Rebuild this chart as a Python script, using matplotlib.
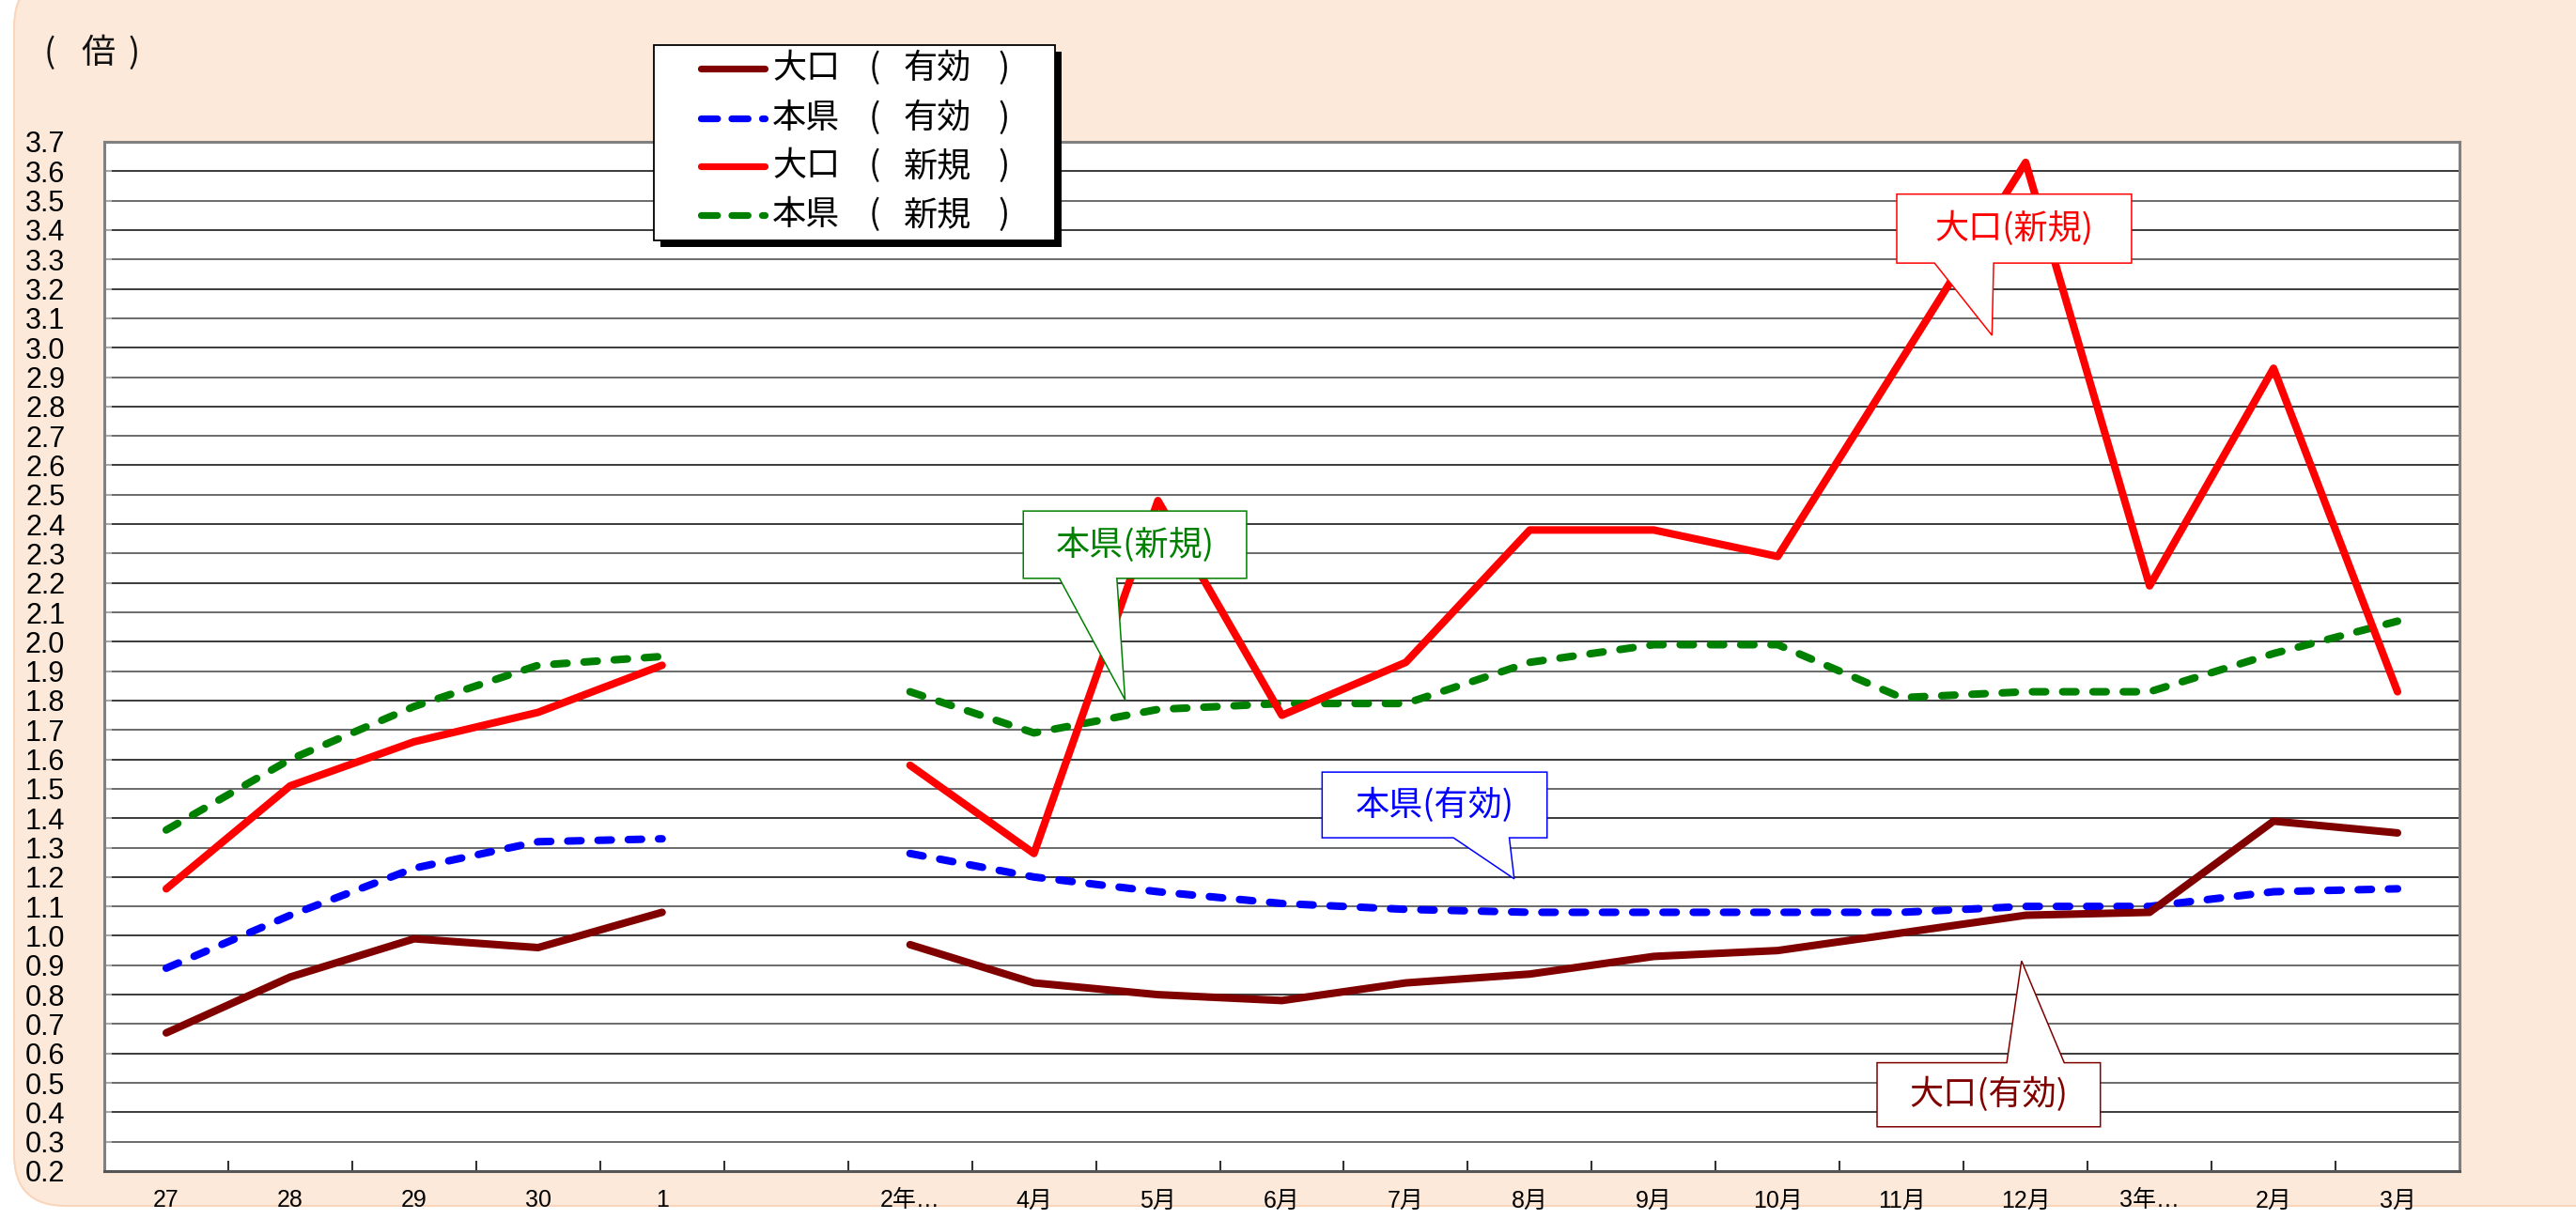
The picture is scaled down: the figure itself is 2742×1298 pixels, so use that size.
import numpy as np
import matplotlib
matplotlib.use("Agg")
import matplotlib.pyplot as plt
from matplotlib.patches import Polygon, FancyBboxPatch, Rectangle
from matplotlib.lines import Line2D

# ---------------- data ----------------
categories = ["27", "28", "29", "30", "1", "", "2年…", "4月", "5月", "6月", "7月",
              "8月", "9月", "10月", "11月", "12月", "3年…", "2月", "3月"]
nan = np.nan
ooguchi_yuko = [0.67, 0.86, 0.99, 0.96, 1.08, nan, 0.97, 0.84, 0.80, 0.78, 0.84,
                0.87, 0.93, 0.95, 1.01, 1.07, 1.08, 1.39, 1.35]
honken_yuko = [0.89, 1.07, 1.23, 1.32, 1.33, nan, 1.28, 1.20, 1.15, 1.11, 1.09,
               1.08, 1.08, 1.08, 1.08, 1.10, 1.10, 1.15, 1.16]
ooguchi_shinki = [1.16, 1.51, 1.66, 1.76, 1.92, nan, 1.58, 1.28, 2.48, 1.75, 1.93,
                  2.38, 2.38, 2.29, 2.96, 3.63, 2.19, 2.93, 1.83]
honken_shinki = [1.36, 1.60, 1.78, 1.92, 1.95, nan, 1.83, 1.69, 1.77, 1.79, 1.79,
                 1.93, 1.99, 1.99, 1.81, 1.83, 1.83, 1.96, 2.07]
series_names = ["大口", "本県", "大口", "本県"]
series_kinds = ["有効", "有効", "新規", "新規"]
y_ticks = [round(0.2 + 0.1 * i, 1) for i in range(36)]
unit_text = "倍"

colors = ["#800000", "#0000FF", "#FF0000", "#008000"]
styles = ["solid", "dash", "solid", "dash"]

# ---------------- fonts ----------------
CJK = "Noto Sans CJK JP"
LAT = "Liberation Sans"
plt.rcParams["font.family"] = [CJK, "DejaVu Sans"]

# ---------------- figure ----------------
W, H = 2742, 1298
fig = plt.figure(figsize=(W / 100, H / 100), dpi=100)
fig.patch.set_facecolor("white")

peach = "#FDE9D9"
bg = FancyBboxPatch((15 / W, 14 / H), 1 - 15 / W + 0.02, 1 - 14 / H + 0.02,
                    boxstyle="round,pad=0,rounding_size=0.02",
                    transform=fig.transFigure, facecolor=peach,
                    edgecolor="#F9D5BB", linewidth=1.5, zorder=-10,
                    mutation_aspect=W / H)
fig.patches.append(bg)

left, right, top, bottom = 111 / W, 2618 / W, 1 - 151 / H, 1 - 1247 / H
ax = fig.add_axes([left, bottom, right - left, top - bottom])
ax.set_facecolor("white")

x = np.arange(len(categories))
ax.set_xlim(-0.5, len(categories) - 0.5)
ax.set_ylim(0.2, 3.7)

# grid
for i, v in enumerate(y_ticks[1:-1]):
    ax.axhline(v, color="#3a3a3a" if i % 2 else "#6a6a6a", lw=1.4, zorder=1)

LW = 5.8
DASH = (0, (1.75, 2.25))
series = [ooguchi_yuko, honken_yuko, ooguchi_shinki, honken_shinki]
for vals, c, st, z in zip(series, colors, styles, [4, 3, 4, 3]):
    if st == "solid":
        ax.plot(x, vals, color=c, lw=LW, solid_capstyle="round",
                solid_joinstyle="round", zorder=z)
    else:
        ax.plot(x, vals, color=c, lw=LW, linestyle=DASH,
                dash_capstyle="round", dash_joinstyle="round", zorder=z)

# axes styling
for s in ax.spines.values():
    s.set_color("#808080")
    s.set_linewidth(2.2)
ax.spines["bottom"].set_color("#555555")
ax.set_yticks(y_ticks)
ax.set_yticklabels([f"{v:.1f}" for v in y_ticks], fontfamily=[LAT, "DejaVu Sans"],
                   fontsize=22)
ax.tick_params(axis="y", direction="in", length=6, width=1.5, color="#aaaaaa", pad=30)
ax.set_xticks(x)
ax.set_xticklabels(categories, fontfamily=[LAT, CJK], fontsize=18)
ax.tick_params(axis="x", which="major", length=0, pad=14)
ax.set_xticks(np.arange(0.5, len(categories) - 0.5, 1.0), minor=True)
ax.tick_params(axis="x", which="minor", direction="in", length=8, width=1.5, color="#333333")

# ---------------- overlay in pixel coordinates ----------------
ov = fig.add_axes([0, 0, 1, 1], zorder=10)
ov.set_xlim(0, W)
ov.set_ylim(H, 0)
ov.axis("off")
ov.patch.set_alpha(0)

# unit label
for t, cx in [("(", 53), (unit_text, 104), (")", 143)]:
    ov.text(cx, 57, t, fontsize=26, ha="center", va="center", color="#111111")

# ---------------- callouts ----------------
def cat(xs):
    return (xs - 100) / 75.5

def val(ys):
    return 0.2 + (713 - ys) / 179.1

def callout(text, color, box, base, tip, pointer="bottom"):
    x0, x1 = cat(box[0]), cat(box[1])
    yt, yb = val(box[2]), val(box[3])
    b0, b1 = cat(base[0]), cat(base[1])
    tx, ty = cat(tip[0]), val(tip[1])
    if pointer == "bottom":
        pts = [(x0, yt), (x1, yt), (x1, yb), (b1, yb), (tx, ty), (b0, yb), (x0, yb)]
    else:
        pts = [(x0, yb), (x1, yb), (x1, yt), (b1, yt), (tx, ty), (b0, yt), (x0, yt)]
    ax.add_patch(Polygon(pts, closed=True, facecolor="white", edgecolor=color,
                         lw=1.1, zorder=6, clip_on=False))
    ax.text((x0 + x1) / 2, (yt + yb) / 2, text, color=color, fontsize=26,
            ha="center", va="center", zorder=7)

callout("大口(新規)", "#FF0000", (1154, 1297, 118, 160), (1177, 1213), (1212, 204))
callout("本県(新規)", "#008000", (622, 758, 311, 352), (644, 679), (684, 426))
callout("本県(有効)", "#0000FF", (804, 941, 470, 510), (884, 918), (921, 535))
callout("大口(有効)", "#800000", (1142, 1278, 647, 686), (1221, 1256), (1230, 585),
        pointer="top")

# ---------------- legend (drawn manually) ----------------
lx0, lx1, ly0, ly1 = 696, 1123, 48, 256
ov.add_patch(Rectangle((lx0 + 7, ly0 + 7), lx1 - lx0, ly1 - ly0, facecolor="black",
                       edgecolor="none", zorder=1))
ov.add_patch(Rectangle((lx0, ly0), lx1 - lx0, ly1 - ly0, facecolor="white",
                       edgecolor="black", lw=1.3, zorder=2))
rows = [73, 126, 177, 229]
for ry, c, st, nm, kd in zip(rows, colors, styles, series_names, series_kinds):
    kw = dict(color=c, lw=5.2, zorder=3)
    if st == "solid":
        ov.add_line(Line2D([746, 814], [ry, ry], solid_capstyle="round", **kw))
    else:
        ov.add_line(Line2D([746, 814], [ry, ry], linestyle=(0, (2.4, 2.1)),
                           dash_capstyle="round", **kw))
    ov.text(822, ry, nm, fontsize=26, ha="left", va="center", zorder=4)
    ov.text(931, ry, "(", fontsize=26, ha="center", va="center", zorder=4)
    ov.text(962, ry, kd, fontsize=26, ha="left", va="center", zorder=4)
    ov.text(1069, ry, ")", fontsize=26, ha="center", va="center", zorder=4)

fig.savefig("out.png", dpi=100, facecolor=fig.get_facecolor())
